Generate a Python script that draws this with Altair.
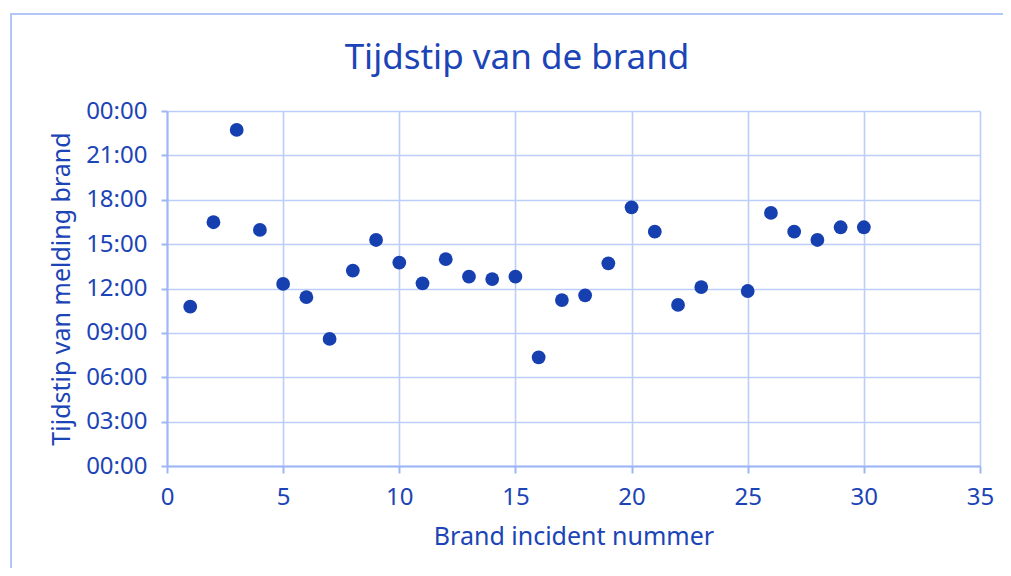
import altair as alt
import pandas as pd

incident = [1, 2, 3, 4, 5, 6, 7, 8, 9, 10, 11, 12, 13, 14, 15,
            16, 17, 18, 19, 20, 21, 22, 23, 25, 26, 27, 28, 29, 30]
hours = [10.77, 16.48, 22.72, 15.96, 12.31, 11.41, 8.59, 13.21, 15.28, 13.75,
         12.35, 13.98, 12.80, 12.64, 12.80, 7.35, 11.22, 11.54, 13.70, 17.49,
         15.84, 10.89, 12.10, 11.83, 17.11, 15.84, 15.28, 16.14, 16.14]
y_ticks = [0, 3, 6, 9, 12, 15, 18, 21, 24]
x_ticks = [0, 5, 10, 15, 20, 25, 30, 35]
title_text = ["Tijdstip van de brand"]

df = pd.DataFrame({"nr": incident, "uur": hours})

TEXT = "#1b44b6"
DOT = "#163fb0"
GRID = "#bccdfa"
DOMAIN = "#9fb6f4"
FONT = "Noto Sans"

points = alt.Chart(df).mark_circle(size=190, opacity=1, color=DOT).encode(
    x=alt.X("nr:Q",
            scale=alt.Scale(domain=[0, 35], nice=False),
            axis=alt.Axis(values=x_ticks, title="Brand incident nummer",
                          labelFontSize=24, titleFontSize=25,
                          labelPadding=12, titlePadding=15,
                          tickSize=7, labelFlush=False)),
    y=alt.Y("uur:Q",
            scale=alt.Scale(domain=[0, 24], nice=False),
            axis=alt.Axis(values=y_ticks, title="Tijdstip van melding brand",
                          labelExpr="(datum.value % 24 < 10 ? '0' : '') + (datum.value % 24) + ':00'",
                          labelFontSize=24, titleFontSize=25,
                          labelPadding=14, titlePadding=11,
                          tickSize=6)),
)

border = alt.Chart(pd.DataFrame({"k": [0]})).mark_rect(
    fill=None, stroke="#b3c6f8", strokeWidth=2, clip=False
).encode(
    x=alt.value(-156), x2=alt.value(880),
    y=alt.value(-97), y2=alt.value(500),
)

title = alt.Chart(pd.DataFrame({"t": title_text})).mark_text(
    font=FONT, fontSize=35, color=TEXT, align="center", baseline="alphabetic"
).encode(
    text="t:N", x=alt.value(350), y=alt.value(-42),
)

chart = alt.layer(border, points, title).properties(
    width=813, height=355,
    autosize=alt.AutoSizeParams(type="none"),
    padding={"left": 159, "top": 103, "right": 23, "bottom": 102},
).configure(background="white").configure_axis(
    labelFont=FONT, titleFont=FONT, labelColor=TEXT, titleColor=TEXT,
    titleFontWeight="normal", gridColor=GRID, gridWidth=1.6, gridOpacity=1,
    domainColor=DOMAIN, domainWidth=2, tickColor=DOMAIN, tickWidth=2,
).configure_view(stroke=None)

chart.save("out.html", embed_options={"renderer": "svg", "actions": False})
